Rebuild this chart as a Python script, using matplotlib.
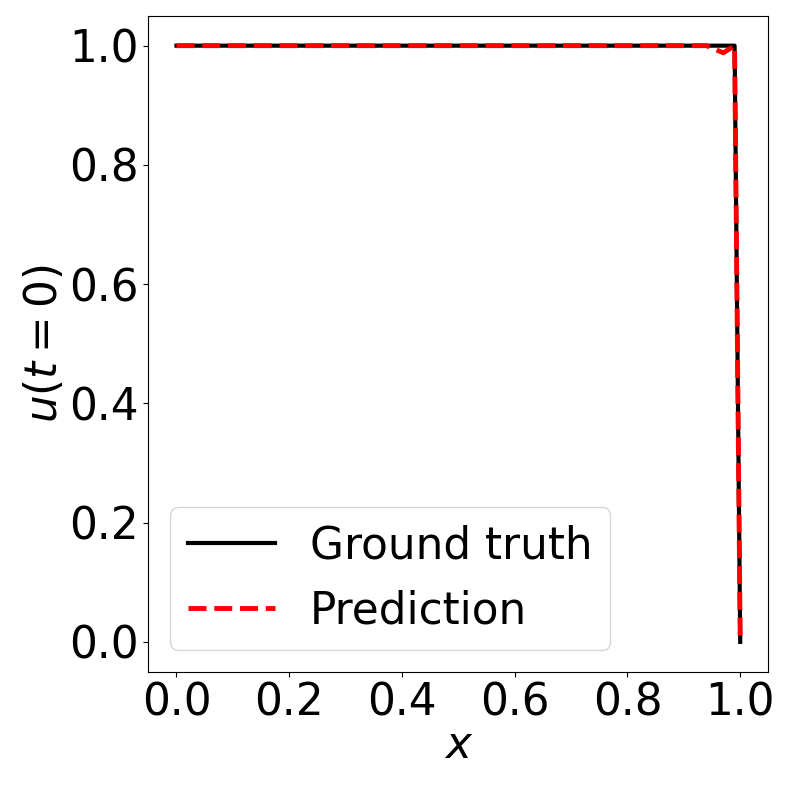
import numpy as np
import matplotlib.pyplot as plt

# initial condition samples
x_true = [0.0, 0.99, 1.0]
u_true = [1.0, 1.0, 0.0]

x_pred = [0.0, 0.94, 0.97, 0.99, 1.0]
u_pred = [1.0, 1.0, 0.988, 1.0, 0.0]

fs = 31.5
fig = plt.figure(figsize=(7.93, 7.93), dpi=100)
ax = fig.add_axes([0.187, 0.153, 0.782, 0.827])
ax.plot(x_true, u_true, color='black', lw=3, label='Ground truth')
ax.plot(x_pred, u_pred, color='red', lw=3.5, ls='--', label='Prediction')
ax.set_xlabel(r'$x$', fontsize=fs, labelpad=0)
ax.set_ylabel(r'$u(t=0)$', fontsize=fs, labelpad=2)
ax.tick_params(labelsize=fs)
ax.set_xticks([0.0, 0.2, 0.4, 0.6, 0.8, 1.0])
ax.set_yticks([0.0, 0.2, 0.4, 0.6, 0.8, 1.0])
ax.legend(fontsize=fs, loc='lower left')
fig.savefig('out.png', dpi=100)
